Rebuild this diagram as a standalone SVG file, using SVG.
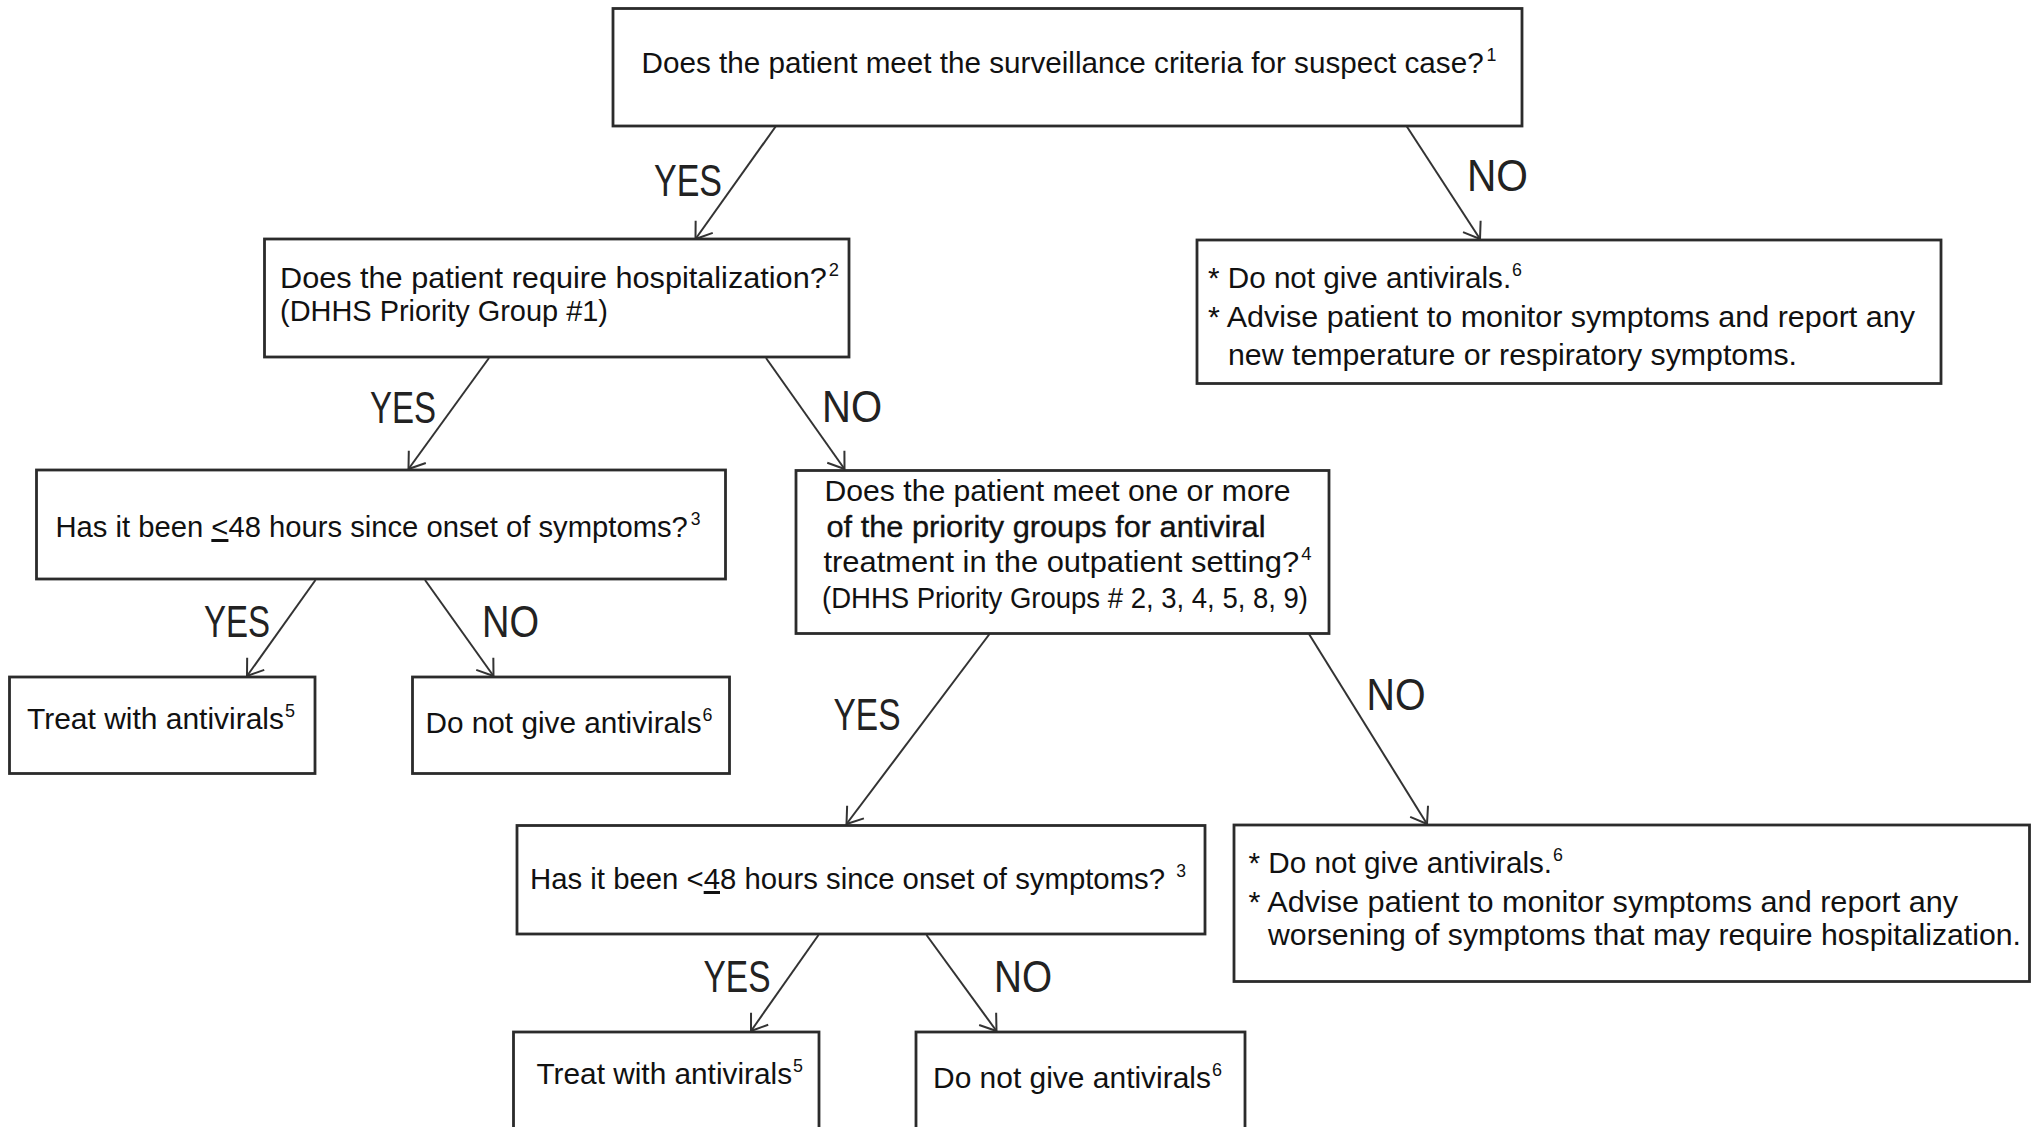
<svg xmlns="http://www.w3.org/2000/svg" width="2035" height="1127" viewBox="0 0 2035 1127">
<style>
.box{fill:#fff;stroke:#2b2b2b;stroke-width:2.8}
.t{font-family:"Liberation Sans",Arial,sans-serif;font-size:30px;fill:#111}
.lbl{font-family:"Liberation Sans",Arial,sans-serif;font-size:44px;fill:#222}
.sup{font-size:18px}
.heavy{stroke:#111;stroke-width:0.35}
.con{stroke:#333;stroke-width:2;fill:none;marker-end:url(#ah)}
</style>
<defs>
<marker id="ah" markerUnits="userSpaceOnUse" markerWidth="40" markerHeight="40" refX="0" refY="0" viewBox="-20 -20 40 40" orient="auto" overflow="visible">
<path d="M-15,-10.5 L0,0 L-15,10.5" fill="none" stroke="#333" stroke-width="2"/>
</marker>
</defs>
<rect width="2035" height="1127" fill="#fff"/>
<g id="connectors">
<line class="con" x1="776" y1="126" x2="695.5" y2="239"/>
<line class="con" x1="1406.5" y1="126" x2="1480" y2="239"/>
<line class="con" x1="489" y1="358" x2="408.5" y2="469"/>
<line class="con" x1="766" y1="358" x2="844.5" y2="469"/>
<line class="con" x1="315.5" y1="580" x2="247" y2="676"/>
<line class="con" x1="425" y1="580" x2="493.5" y2="676"/>
<line class="con" x1="989.5" y1="634" x2="846.5" y2="824"/>
<line class="con" x1="1309" y1="634" x2="1427" y2="824"/>
<line class="con" x1="818.5" y1="935" x2="751" y2="1031"/>
<line class="con" x1="926.5" y1="935" x2="996.5" y2="1031"/>
<text class="lbl" x="654" y="196" textLength="68" lengthAdjust="spacingAndGlyphs">YES</text>
<text class="lbl" x="1467" y="191" textLength="61" lengthAdjust="spacingAndGlyphs">NO</text>
<text class="lbl" x="370" y="423" textLength="66" lengthAdjust="spacingAndGlyphs">YES</text>
<text class="lbl" x="822" y="422" textLength="60" lengthAdjust="spacingAndGlyphs">NO</text>
<text class="lbl" x="204" y="637" textLength="66" lengthAdjust="spacingAndGlyphs">YES</text>
<text class="lbl" x="482" y="637" textLength="57" lengthAdjust="spacingAndGlyphs">NO</text>
<text class="lbl" x="833.5" y="730" textLength="67" lengthAdjust="spacingAndGlyphs">YES</text>
<text class="lbl" x="1366.5" y="710" textLength="59" lengthAdjust="spacingAndGlyphs">NO</text>
<text class="lbl" x="703.5" y="991.5" textLength="67" lengthAdjust="spacingAndGlyphs">YES</text>
<text class="lbl" x="994" y="991.5" textLength="58" lengthAdjust="spacingAndGlyphs">NO</text>
</g>
<g id="node-surveillance">
<rect class="box" x="613" y="8.5" width="909" height="117.5"/>
<text class="t" x="641.5" y="73" textLength="855" lengthAdjust="spacingAndGlyphs">Does the patient meet the surveillance criteria for suspect case?<tspan class="sup" dx="3" dy="-12">1</tspan></text>
</g>
<g id="node-hospitalization">
<rect class="box" x="264.5" y="239" width="584.5" height="118"/>
<text class="t" x="280" y="288" textLength="559" lengthAdjust="spacingAndGlyphs">Does the patient require hospitalization?<tspan class="sup" dx="2" dy="-12">2</tspan></text>
<text class="t" x="280" y="321" textLength="328" lengthAdjust="spacingAndGlyphs">(DHHS Priority Group #1)</text>
</g>
<g id="node-no-antivirals-1">
<rect class="box" x="1197" y="240" width="744" height="143.5"/>
<text class="t" x="1208" y="288" textLength="314" lengthAdjust="spacingAndGlyphs">* Do not give antivirals.<tspan class="sup" dx="1" dy="-12">6</tspan></text>
<text class="t" x="1208" y="326.5" textLength="707" lengthAdjust="spacingAndGlyphs">* Advise patient to monitor symptoms and report any</text>
<text class="t" x="1228" y="365" textLength="569" lengthAdjust="spacingAndGlyphs">new temperature or respiratory symptoms.</text>
</g>
<g id="node-48h-1">
<rect class="box" x="36.5" y="470" width="689" height="109"/>
<text class="t" x="55.5" y="537" textLength="645" lengthAdjust="spacingAndGlyphs">Has it been <tspan text-decoration="underline">&lt;</tspan>48 hours since onset of symptoms?<tspan class="sup" dx="3" dy="-12">3</tspan></text>
</g>
<g id="node-priority-groups">
<rect class="box" x="796" y="470.5" width="533" height="163"/>
<text class="t" x="824.5" y="500.5" textLength="466" lengthAdjust="spacingAndGlyphs">Does the patient meet one or more</text>
<text class="t heavy" x="826.5" y="536.5" textLength="439" lengthAdjust="spacingAndGlyphs">of the priority groups for antiviral</text>
<text class="t" x="823.5" y="571.5" textLength="488" lengthAdjust="spacingAndGlyphs">treatment in the outpatient setting?<tspan class="sup" dx="2" dy="-12">4</tspan></text>
<text class="t" x="822" y="608" textLength="486" lengthAdjust="spacingAndGlyphs">(DHHS Priority Groups # 2, 3, 4, 5, 8, 9)</text>
</g>
<g id="node-treat-1">
<rect class="box" x="9.5" y="677" width="305.5" height="96.5"/>
<text class="t" x="27" y="729" textLength="268" lengthAdjust="spacingAndGlyphs">Treat with antivirals<tspan class="sup" dx="1" dy="-12">5</tspan></text>
</g>
<g id="node-no-antivirals-2">
<rect class="box" x="412.5" y="677" width="317" height="96.5"/>
<text class="t" x="425.5" y="733" textLength="287" lengthAdjust="spacingAndGlyphs">Do not give antivirals<tspan class="sup" dx="1" dy="-12">6</tspan></text>
</g>
<g id="node-48h-2">
<rect class="box" x="517" y="825.5" width="688" height="108.5"/>
<text class="t" x="530" y="889" textLength="656" lengthAdjust="spacingAndGlyphs">Has it been &lt;<tspan text-decoration="underline">4</tspan>8 hours since onset of symptoms? <tspan class="sup" dx="3" dy="-12">3</tspan></text>
</g>
<g id="node-no-antivirals-3">
<rect class="box" x="1234" y="825" width="795.5" height="156.5"/>
<text class="t" x="1248.5" y="873" textLength="314.5" lengthAdjust="spacingAndGlyphs">* Do not give antivirals.<tspan class="sup" dx="1" dy="-12">6</tspan></text>
<text class="t" x="1248.5" y="911.5" textLength="709.5" lengthAdjust="spacingAndGlyphs">* Advise patient to monitor symptoms and report any</text>
<text class="t" x="1268" y="945" textLength="753" lengthAdjust="spacingAndGlyphs">worsening of symptoms that may require hospitalization.</text>
</g>
<g id="node-treat-2">
<rect class="box" x="513.5" y="1032" width="305.5" height="110"/>
<text class="t" x="536.5" y="1084" textLength="266.5" lengthAdjust="spacingAndGlyphs">Treat with antivirals<tspan class="sup" dx="1" dy="-12">5</tspan></text>
</g>
<g id="node-no-antivirals-4">
<rect class="box" x="916" y="1032" width="329" height="110"/>
<text class="t" x="933" y="1088" textLength="289" lengthAdjust="spacingAndGlyphs">Do not give antivirals<tspan class="sup" dx="1" dy="-12">6</tspan></text>
</g>
</svg>
